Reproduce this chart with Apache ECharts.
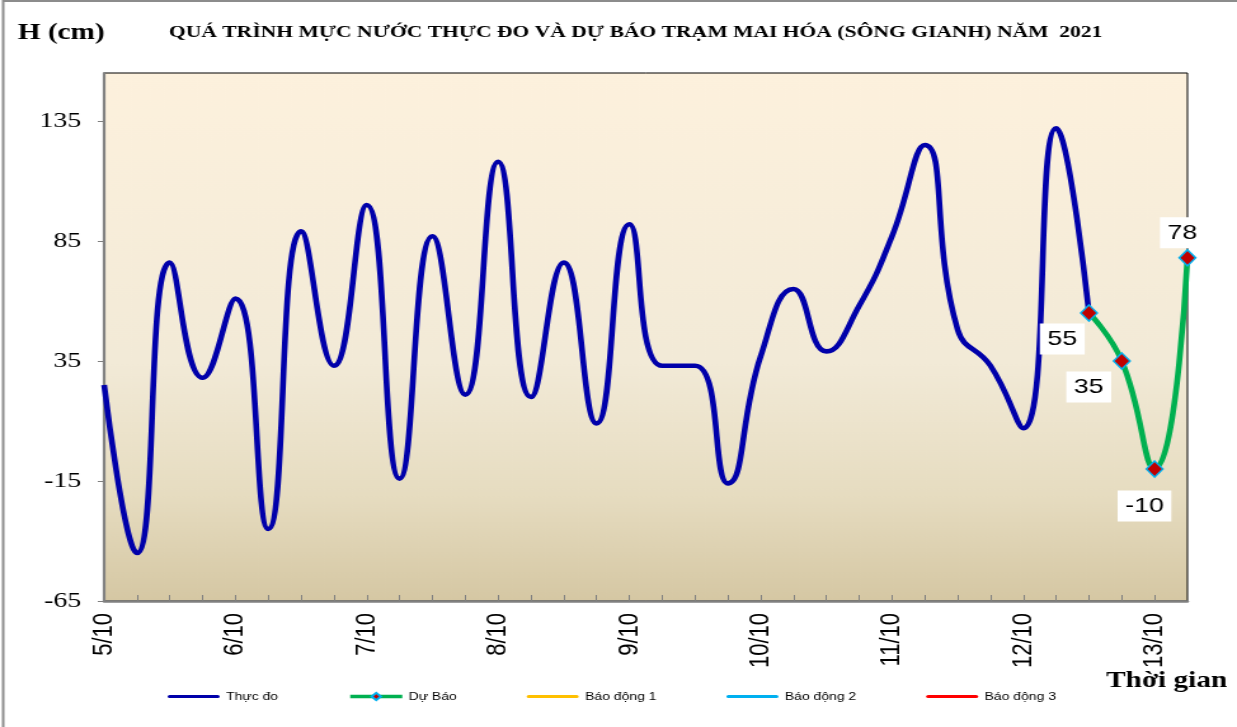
<!DOCTYPE html>
<html>
<head>
<meta charset="utf-8">
<script src="https://cdn.jsdelivr.net/npm/echarts@6/dist/echarts.min.js"></script>
<style>
html,body{margin:0;padding:0;background:#fff;overflow:hidden;}
#wrap{width:1237px;height:727px;overflow:hidden;}
#chart{width:974px;height:727px;transform:scaleX(1.27);transform-origin:0 0;}
</style>
</head>
<body>
<div id="wrap"><div id="chart"></div></div>
<script>
// Day labels (tick labels), one per day, 4 readings per day (every 6 hours)
const dayLabels = ['5/10','6/10','7/10','8/10','9/10','10/10','11/10','12/10','13/10'];
const hours = ['00h','06h','12h','18h'];
const pointCount = 34;

// Observed water level (cm) – "Thực đo"
const observed = [25, -45, 76, 28, 61, -35, 89, 33, 100, -14, 87, 21, 118, 20, 76, 9, 92, 33, 33, -16, 37, 65, 39, 58, 87, 125, 48, 33, 7, 132, 55];
// Forecast water level (cm) – "Dự Báo" (starts at last observed point)
const forecastStart = 30;
const forecast = [55, 35, -10, 78];

// Y axis tick labels
const yTicks = [-65, -15, 35, 85, 135];

const categories = [];
for (let i = 0; i < pointCount; i++) {
  categories.push(dayLabels[Math.floor(i / 4)] + ' ' + hours[i % 4]);
}
const obsData = categories.map((c, i) => i < observed.length ? observed[i] : null);
const labelOffsets = [[-21, 26], [-26, 26], [-8, 37], [-4, -25]];
const fcData = categories.map((c, i) => {
  const k = i - forecastStart;
  if (k < 0 || k >= forecast.length) return null;
  return {
    value: forecast[k],
    label: { show: true, position: 'inside', offset: labelOffsets[k] }
  };
});

const chart = echarts.init(document.getElementById('chart'), null, { renderer: 'canvas' });
const serif = '"Liberation Serif", "Times New Roman", serif';
const sans = '"Liberation Sans", Arial, sans-serif';
const barIcon = 'path://M2,0 L98,0 A2,2 0 0 1 98,8 L2,8 A2,2 0 0 1 2,0 Z';

chart.setOption({
  animation: false,
  backgroundColor: '#ffffff',
  title: {
    text: 'QUÁ TRÌNH MỰC NƯỚC THỰC ĐO VÀ DỰ BÁO TRẠM MAI HÓA (SÔNG GIANH) NĂM  2021',
    left: 128, top: 19,
    textStyle: { fontFamily: serif, fontWeight: 'bold', fontSize: 17, color: '#000' }
  },
  graphic: [
    { type: 'rect', shape: { x: 2.5, y: 1, width: 1100, height: 800 }, style: { fill: 'none', stroke: '#8c8c8c', lineWidth: 2 }, silent: true },
    { type: 'text', left: 14, top: 22, style: { text: 'H (cm)', font: 'bold 23px ' + serif, fill: '#000' } },
    { type: 'text', left: 871, top: 670, style: { text: 'Thời gian', font: 'bold 23px ' + serif, fill: '#000' } }
  ],
  legend: {
    left: 127, top: 686,
    itemWidth: 41, itemHeight: 9, itemGap: 55,
    textStyle: { fontFamily: sans, fontSize: 11, color: '#000' },
    lineStyle: { width: 3.5 },
    data: [
      { name: 'Thực đo', icon: barIcon },
      { name: 'Dự Báo' },
      { name: 'Báo động 1', icon: barIcon },
      { name: 'Báo động 2', icon: barIcon },
      { name: 'Báo động 3', icon: barIcon }
    ]
  },
  grid: {
    left: 82, right: 39, top: 73, bottom: 126,
    show: true, borderColor: '#000', borderWidth: 1,
    backgroundColor: {
      type: 'linear', x: 0, y: 0, x2: 0, y2: 1,
      colorStops: [
        { offset: 0, color: '#fdf1dd' },
        { offset: 0.55, color: '#f2ead7' },
        { offset: 0.8, color: '#e6dcc0' },
        { offset: 1, color: '#d5c7a3' }
      ]
    }
  },
  xAxis: {
    type: 'category',
    data: categories,
    boundaryGap: false,
    axisLine: { onZero: false, lineStyle: { color: '#808080', width: 2.5 } },
    axisTick: { inside: true, length: 6, interval: 0, lineStyle: { color: '#808080', width: 1 } },
    axisLabel: {
      interval: 3, rotate: 90, margin: 12,
      fontFamily: sans, fontSize: 22, color: '#000',
      formatter: v => v.split(' ')[0]
    },
    splitLine: { show: false }
  },
  yAxis: {
    type: 'value',
    min: -65, max: 155, interval: 50,
    axisLine: { show: true, lineStyle: { color: '#808080', width: 2.2 } },
    axisTick: { show: true, length: 5, customValues: yTicks, lineStyle: { color: '#808080' } },
    axisLabel: { customValues: yTicks, margin: 18, fontFamily: serif, fontSize: 22, color: '#000' },
    splitLine: { show: false }
  },
  series: [
    {
      name: 'Thực đo', type: 'line', data: obsData, smooth: 0.5,
      symbol: 'none', color: '#0000aa',
      lineStyle: { color: '#0000aa', width: 4.6 }, z: 2
    },
    {
      name: 'Dự Báo', type: 'line', data: fcData, smooth: 0.5,
      symbol: 'diamond', symbolSize: [13, 16], showSymbol: true,
      color: '#00b050',
      itemStyle: { color: '#c00000', borderColor: '#00b0f0', borderWidth: 1.5 },
      lineStyle: { color: '#00b050', width: 4.6 },
      label: {
        color: '#000', fontFamily: sans, fontSize: 21,
        backgroundColor: '#fff', padding: [5, 6, 5, 6]
      },
      z: 3
    },
    { name: 'Báo động 1', type: 'line', data: [], symbol: 'none', color: '#ffc000', lineStyle: { color: '#ffc000', width: 4 } },
    { name: 'Báo động 2', type: 'line', data: [], symbol: 'none', color: '#00b0f0', lineStyle: { color: '#00b0f0', width: 4 } },
    { name: 'Báo động 3', type: 'line', data: [], symbol: 'none', color: '#ff0000', lineStyle: { color: '#ff0000', width: 4 } }
  ]
});
</script>
</body>
</html>
